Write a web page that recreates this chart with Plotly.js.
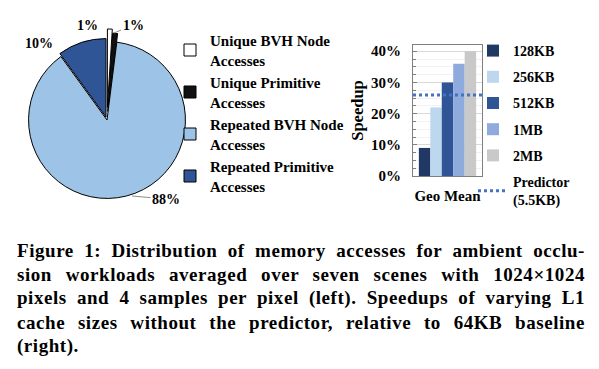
<!DOCTYPE html>
<html>
<head>
<meta charset="utf-8">
<script src="https://cdn.plot.ly/plotly-3.0.1.min.js"></script>
<style>html,body{margin:0;padding:0;background:#fff;}#chart{width:599px;height:369px;}</style>
</head>
<body>
<div id="chart"></div>
<script>
// Pie: distribution of memory accesses (%)
const pieLabels = ["Unique BVH Node<br>Accesses", "Unique Primitive<br>Accesses", "Repeated BVH Node<br>Accesses", "Repeated Primitive<br>Accesses"];
const pieValues = [1, 1, 88, 10];
const pieColors = ["#FFFFFF", "#111111", "#9DC3E6", "#2F5597"];
const piePull = [0.16, 0.11, 0, 0.04];

// Bars: speedup over 64KB baseline (Geo Mean)
const barCategories = ["Geo Mean"];
const cacheSizes = ["128KB", "256KB", "512KB", "1MB", "2MB"];
const speedups = [0.09, 0.22, 0.30, 0.36, 0.40];
const barColors = ["#203864", "#BDD7EE", "#2F5597", "#8FAADC", "#C9C9C9"];
const predictorName = "Predictor<br>(5.5KB)";
const predictorSpeedup = 0.26;

const captionLines = [
  "Figure 1: Distribution of memory accesses for ambient occlu-",
  "sion workloads averaged over seven scenes with 1024×1024",
  "pixels and 4 samples per pixel (left). Speedups of varying L1",
  "cache sizes without the predictor, relative to 64KB baseline",
  "(right)."
];

const W = 599, H = 369;
const px = v => v / W;
const py = v => 1 - v / H;
const SERIF = "Liberation Serif, Times New Roman, serif";

// placement of the pie's percentage labels (layout only): [text x, text y, leader tip x, leader tip y]
const pieLabelPlacement = [
  [87, 25, null, null],
  [133, 25, 114, 33],
  [166, 199, 132, 196],
  [39, 44, null, null]
];

const data = [];
data.push({
  type: "pie",
  labels: pieLabels,
  values: pieValues,
  sort: false,
  direction: "clockwise",
  rotation: 0,
  pull: piePull,
  marker: {colors: pieColors, line: {color: "#000000", width: 1}},
  textinfo: "none",
  domain: {x: [px(16), px(198)], y: [py(211), py(29)]},
  legend: "legend",
  hoverinfo: "label+percent"
});

cacheSizes.forEach((name, i) => {
  data.push({
    type: "bar",
    name: name,
    x: barCategories,
    y: [speedups[i]],
    marker: {color: barColors[i], line: {width: 0}},
    xaxis: "x",
    yaxis: "y",
    legend: "legend2",
    legendgroup: "g" + i
  });
});

data.push({
  type: "scatter",
  mode: "lines",
  name: predictorName,
  x: [0, 1],
  y: [predictorSpeedup, predictorSpeedup],
  line: {color: "#4472C4", width: 3, dash: "dot"},
  xaxis: "x2",
  yaxis: "y",
  legend: "legend2",
  legendgroup: "pred"
});

const pieTotal = pieValues.reduce((a, b) => a + b, 0);
const annotations = [];
pieValues.forEach((v, i) => {
  const p = pieLabelPlacement[i];
  const txt = Math.round(v / pieTotal * 100) + "%";
  if (p[2] === null) {
    annotations.push({
      text: txt, xref: "paper", yref: "paper",
      x: px(p[0]), y: py(p[1]), xanchor: "center", yanchor: "middle",
      showarrow: false,
      font: {family: SERIF, size: 14, color: "#000", weight: "bold"}
    });
  } else {
    annotations.push({
      text: txt, xref: "paper", yref: "paper",
      x: px(p[2]), y: py(p[3]),
      ax: p[0] - p[2], ay: p[1] - p[3],
      showarrow: true, arrowhead: 0, arrowwidth: 1, arrowcolor: "#8C8C8C",
      standoff: 0, startstandoff: 0,
      font: {family: SERIF, size: 14, color: "#000", weight: "bold"}
    });
  }
});

captionLines.forEach((t, i) => {
  annotations.push({
    text: t,
    xref: "paper", yref: "paper",
    x: px(15), y: py(250 + i * 24),
    xanchor: "left", yanchor: "middle",
    showarrow: false,
    font: {family: SERIF, size: 19, color: "#000", weight: "bold"}
  });
});

const layout = {
  width: W, height: H,
  margin: {l: 0, r: 0, t: 0, b: 0},
  paper_bgcolor: "#FFFFFF",
  plot_bgcolor: "#FFFFFF",
  font: {family: SERIF, color: "#000", weight: "bold"},
  barmode: "group",
  bargap: 0.17,
  bargroupgap: 0,
  xaxis: {
    domain: [px(413), px(482)],
    type: "category",
    showline: true, linecolor: "#7F7F7F", linewidth: 1, mirror: true,
    ticks: "", tickfont: {family: SERIF, size: 15, weight: "bold"},
    ticklabelstandoff: 6,
    fixedrange: true
  },
  xaxis2: {
    domain: [px(413), px(482)],
    overlaying: "x", range: [0, 1], visible: false, fixedrange: true
  },
  yaxis: {
    domain: [py(176), py(45)],
    range: [0, 0.42],
    dtick: 0.1,
    tickformat: ".0%",
    showline: true, linecolor: "#7F7F7F", linewidth: 1, mirror: true,
    showgrid: true, gridcolor: "#D9D9D9",
    ticks: "inside", ticklen: 4, tickcolor: "#7F7F7F",
    minor: {dtick: 0.025, ticks: "inside", ticklen: 3, tickcolor: "#7F7F7F", showgrid: true, gridcolor: "#F2F2F2"},
    tickfont: {family: SERIF, size: 15, weight: "bold"},
    ticklabelstandoff: 8,
    title: {text: "Speedup", font: {family: SERIF, size: 16.5, weight: "bold"}, standoff: 3},
    zeroline: false,
    fixedrange: true
  },
  legend: {
    x: px(170), y: py(24), xanchor: "left", yanchor: "top",
    bgcolor: "rgba(0,0,0,0)",
    font: {family: SERIF, size: 15, weight: "bold", color: "#000"},
    itemclick: false
  },
  legend2: {
    x: px(473), y: py(35), xanchor: "left", yanchor: "top",
    bgcolor: "rgba(0,0,0,0)",
    tracegroupgap: 5,
    font: {family: SERIF, size: 14, weight: "bold", color: "#000"},
    itemclick: false
  },
  showlegend: true,
  annotations: annotations
};

Plotly.newPlot("chart", data, layout, {displayModeBar: false, staticPlot: true}).then(gd => {
  // justify the caption lines (all but the last) to the text block width, keeping the left edge fixed
  const targetW = 568;
  const texts = gd.querySelectorAll(".annotation-text");
  texts.forEach(el => {
    const s = el.textContent;
    const idx = captionLines.indexOf(s);
    if (idx < 0) return;
    const b0 = el.getBBox();
    el.style.letterSpacing = "0.55px";
    const b1 = el.getBBox();
    const spaces = (s.match(/ /g) || []).length;
    if (idx < captionLines.length - 1 && spaces > 0 && b1.width < targetW) {
      el.style.wordSpacing = ((targetW - b1.width) / spaces).toFixed(2) + "px";
    }
    const b2 = el.getBBox();
    el.setAttribute("transform", "translate(" + (b0.x - b2.x).toFixed(2) + ",0)");
  });
});
</script>
</body>
</html>
